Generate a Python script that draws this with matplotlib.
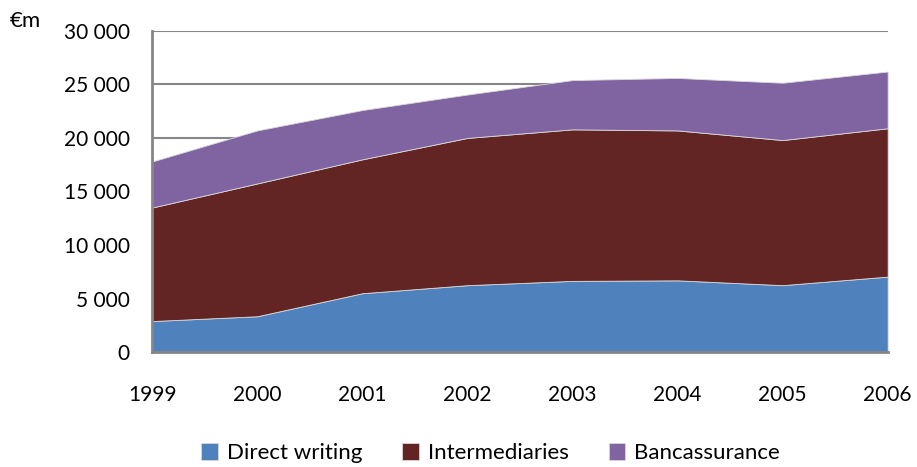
import numpy as np
import matplotlib.pyplot as plt

# Values in EUR million
years = [1999, 2000, 2001, 2002, 2003, 2004, 2005, 2006]
direct_writing = [2900, 3350, 5500, 6250, 6650, 6700, 6250, 7050]
intermediaries = [10600, 12400, 12500, 13750, 14150, 14000, 13550, 13850]
bancassurance = [4300, 4950, 4600, 4050, 4600, 4900, 5350, 5300]
labels = ['Direct writing', 'Intermediaries', 'Bancassurance']
colors = ['#4F81BD', '#632523', '#8064A2']

plt.rcParams['font.family'] = ['Lato', 'DejaVu Sans']

fig = plt.figure(figsize=(9.17, 4.67), dpi=100)
ax = fig.add_axes([0.166, 0.246, 0.802, 0.688])

ax.stackplot(years, direct_writing, intermediaries, bancassurance,
             labels=labels, colors=colors, edgecolor='#d9d9d9', linewidth=0.6)

ax.set_xlim(1999, 2006)
ax.set_ylim(0, 30000)
ax.set_yticks(np.arange(0, 30001, 5000))
ax.set_yticklabels([f'{v:,}'.replace(',', ' ') for v in range(0, 30001, 5000)])
ax.set_xticks(years)
ax.grid(axis='y', color='#868686', linewidth=1.5, zorder=0)
ax.set_axisbelow(True)

for s in ['top', 'right']:
    ax.spines[s].set_visible(False)
for s in ['left', 'bottom']:
    ax.spines[s].set_color('#868686')
    ax.spines[s].set_linewidth(2)

ax.tick_params(axis='both', length=0, labelsize=15, colors='black')
ax.tick_params(axis='y', pad=16)
ax.tick_params(axis='x', pad=24)

fig.text(0.011, 0.955, '€m', fontsize=16, ha='left', va='center')

fig.legend(loc='lower center', bbox_to_anchor=(0.535, -0.035), ncol=3,
           frameon=False, fontsize=16, handlelength=0.75, handleheight=0.75,
           handletextpad=0.4, columnspacing=1.8)

fig.savefig('out.png', dpi=100)
